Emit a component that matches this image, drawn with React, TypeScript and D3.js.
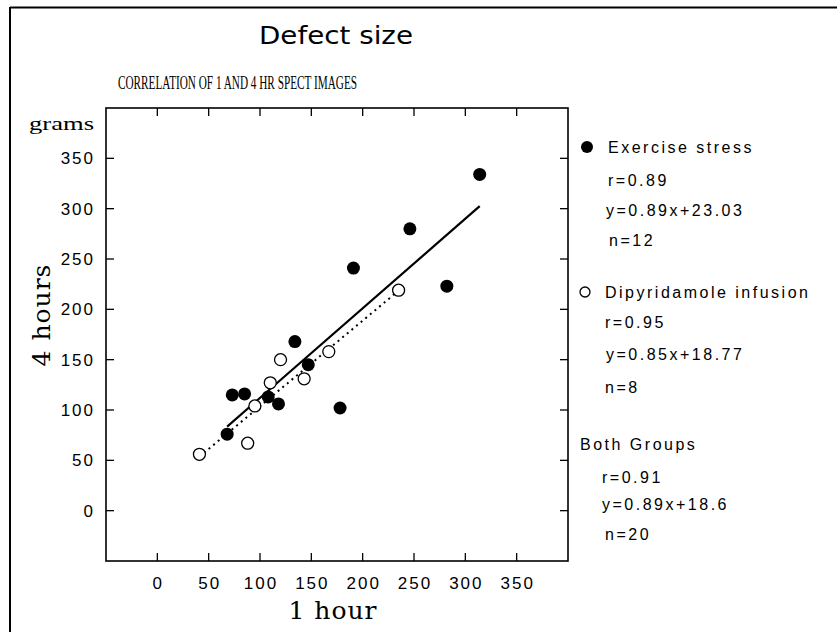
import React from "react";
import * as d3 from "d3";

const exerciseX = [314, 246, 191, 282, 134, 147, 73, 85, 108, 118, 178, 68];
const exerciseY = [334, 280, 241, 223, 168, 145, 115, 116, 113, 106, 102, 76];
const dipX = [41, 88, 110, 120, 143, 167, 235, 95];
const dipY = [56, 67, 127, 150, 131, 158, 219, 104];

const xTicks = [0, 50, 100, 150, 200, 250, 300, 350];
const yTicks = [0, 50, 100, 150, 200, 250, 300, 350];

// regression lines: [slope, intercept, xStart, xEnd]
const exerciseFit = [0.89, 23.03, 68, 314];
const dipFit = [0.85, 18.77, 41, 235];

const legendLines = [
  { t: "Exercise stress", x: 608, y: 153, sym: "filled" },
  { t: "r=0.89", x: 608, y: 186 },
  { t: "y=0.89x+23.03", x: 606, y: 216 },
  { t: "n=12", x: 609, y: 246 },
  { t: "Dipyridamole infusion", x: 605, y: 298, sym: "open" },
  { t: "r=0.95", x: 605, y: 328 },
  { t: "y=0.85x+18.77", x: 606, y: 360 },
  { t: "n=8", x: 605, y: 393 },
  { t: "Both Groups", x: 580, y: 450 },
  { t: "r=0.91", x: 602, y: 483 },
  { t: "y=0.89x+18.6", x: 602, y: 510 },
  { t: "n=20", x: 605, y: 540 },
];

export default function App() {
  const W = 837, H = 632;
  const x = d3.scaleLinear().domain([-50, 400]).range([106, 568]);
  const y = d3.scaleLinear().domain([-50, 400]).range([561, 108]);
  const [left, right] = x.range();
  const [bottom, top] = y.range();
  const fitPath = (f: number[]) =>
    d3.line<number>()
      .x((v) => x(v))
      .y((v) => y(f[0] * v + f[1]))([f[2], f[3]]) as string;
  const tick = 8;
  const tickFont = "'Liberation Sans', Arial, sans-serif";
  return (
    <svg width={W} height={H} style={{ display: "block", position: "absolute", left: 0, top: 0, background: "#fff" }}>
      <rect x={0} y={0} width={W} height={H} fill="#fff" />
      {/* outer frame */}
      <line x1={10} y1={7.5} x2={W} y2={7.5} stroke="#000" strokeWidth={2} />
      <line x1={10} y1={7} x2={10} y2={H} stroke="#000" strokeWidth={2} />
      <text x={259} y={44} textLength={154} lengthAdjust="spacingAndGlyphs" fontFamily="'DejaVu Sans', sans-serif" fontSize={25}>Defect size</text>
      <text x={118} y={89} textLength={239} lengthAdjust="spacingAndGlyphs" fontFamily="'Liberation Serif', serif" fontSize={18}>CORRELATION OF 1 AND 4 HR SPECT IMAGES</text>
      <text x={29} y={130} textLength={65} lengthAdjust="spacingAndGlyphs" fontFamily="'Liberation Serif', serif" fontSize={18}>grams</text>
      {/* plot box */}
      <rect x={left} y={top} width={right - left} height={bottom - top} fill="none" stroke="#000" strokeWidth={1.6} />
      {xTicks.map((t) => (
        <g key={"x" + t}>
          <line x1={x(t)} x2={x(t)} y1={bottom} y2={bottom - tick} stroke="#000" strokeWidth={1.3} />
          <line x1={x(t)} x2={x(t)} y1={top} y2={top + tick} stroke="#000" strokeWidth={1.3} />
          <text x={x(t) + 1} y={589} textAnchor="middle" fontFamily={tickFont} fontSize={17} letterSpacing={2}>{t}</text>
        </g>
      ))}
      {yTicks.map((t) => (
        <g key={"y" + t}>
          <line x1={left} x2={left + tick} y1={y(t)} y2={y(t)} stroke="#000" strokeWidth={1.3} />
          <line x1={right} x2={right - tick} y1={y(t)} y2={y(t)} stroke="#000" strokeWidth={1.3} />
          <text x={95} y={y(t) + 6} textAnchor="end" fontFamily={tickFont} fontSize={17} letterSpacing={2}>{t}</text>
        </g>
      ))}
      <text x={333} y={619} textAnchor="middle" fontFamily="'DejaVu Serif', serif" fontSize={25} letterSpacing={1}>1 hour</text>
      <text transform={`translate(50,315) rotate(-90)`} textAnchor="middle" fontFamily="'DejaVu Serif', serif" fontSize={25} letterSpacing={1}>4 hours</text>
      {/* fits */}
      <path d={fitPath(exerciseFit)} stroke="#000" strokeWidth={2.2} fill="none" />
      <path d={fitPath(dipFit)} stroke="#000" strokeWidth={2} strokeDasharray="2 4" fill="none" />
      {dipX.map((v, i) => (
        <circle key={"d" + i} cx={x(v)} cy={y(dipY[i])} r={6} fill="#fff" stroke="#000" strokeWidth={1.3} />
      ))}
      {exerciseX.map((v, i) => (
        <circle key={"e" + i} cx={x(v)} cy={y(exerciseY[i])} r={6.5} fill="#000" />
      ))}
      {/* legend */}
      {legendLines.map((l, i) => (
        <g key={"l" + i}>
          {l.sym === "filled" && <circle cx={587} cy={l.y - 6} r={6} fill="#000" />}
          {l.sym === "open" && <circle cx={585} cy={l.y - 6} r={5} fill="#fff" stroke="#000" strokeWidth={1.3} />}
          <text x={l.x} y={l.y} fontFamily={tickFont} fontSize={16} letterSpacing={2.5}>{l.t}</text>
        </g>
      ))}
    </svg>
  );
}
